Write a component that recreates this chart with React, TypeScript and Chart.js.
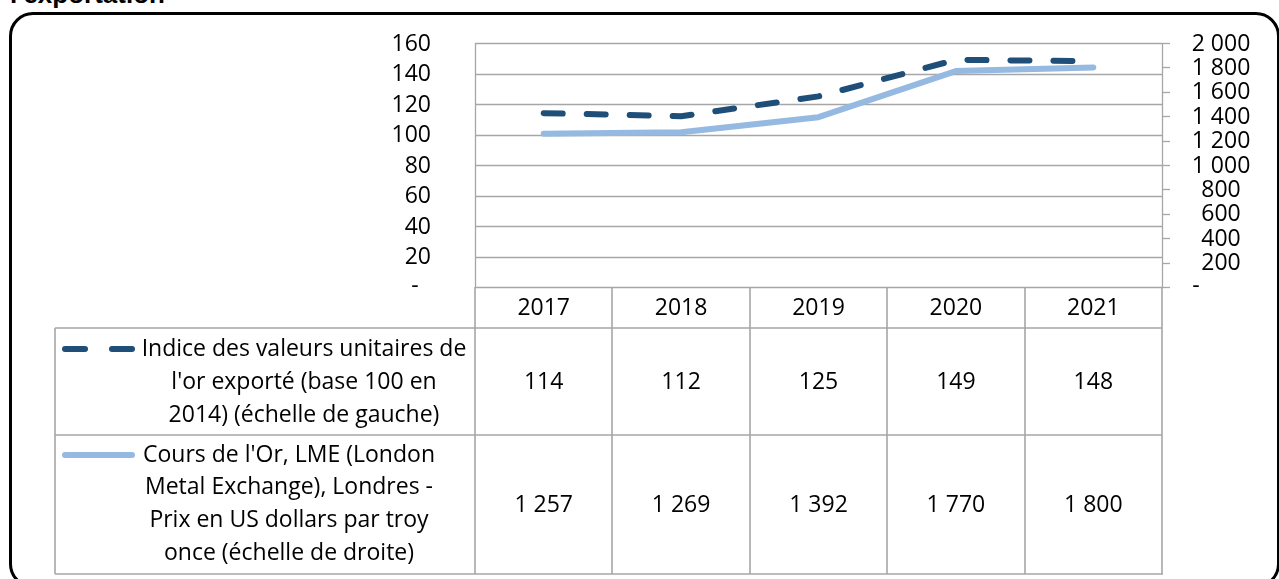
import React, { useEffect, useRef } from "react";
import { Chart, registerables } from "chart.js";

Chart.register(...registerables);

// ---------- data ----------
const YEARS = ["2017", "2018", "2019", "2020", "2021"];
const INDEX_VALUES = [114, 112, 125, 149, 148];
const GOLD_PRICE = [1257, 1269, 1392, 1770, 1800];
const LEFT_TICKS = [0, 20, 40, 60, 80, 100, 120, 140, 160];
const RIGHT_TICKS = [0, 200, 400, 600, 800, 1000, 1200, 1400, 1600, 1800, 2000];
const INDEX_LABEL_LINES = [
  "Indice des valeurs unitaires de",
  "l'or exporté (base 100 en",
  "2014) (échelle de gauche)",
];
const GOLD_LABEL_LINES = [
  "Cours de l'Or, LME (London",
  "Metal Exchange), Londres -",
  "Prix en US dollars par troy",
  "once (échelle de droite)",
];
const TITLE_TEXT = "l'exportation";

// ---------- styles ----------
const DARK = "#1F4E79";
const LIGHT = "#95B9E1";
const GRID = "#a6a6a6";
const FONT = "23px 'Open Sans'";

const fmt = (v: number) =>
  v === 0 ? "-" : String(v).replace(/\B(?=(\d{3})+(?!\d))/g, " ");

const tablePlugin = {
  id: "excelTable",
  beforeDatasetsDraw(chart: any) {
    const { ctx, chartArea: a, scales } = chart;
    const y = scales.y;
    const y1 = scales.y1;
    ctx.save();
    ctx.strokeStyle = GRID;
    ctx.lineWidth = 1.3;
    const line = (x0: number, y0: number, x1: number, yy1: number) => {
      ctx.beginPath();
      ctx.moveTo(x0, y0);
      ctx.lineTo(x1, yy1);
      ctx.stroke();
    };
    LEFT_TICKS.forEach((v) => {
      const py = Math.round(y.getPixelForValue(v)) + 0.5;
      line(a.left, py, a.right, py);
    });
    line(Math.round(a.left) + 0.5, a.top, Math.round(a.left) + 0.5, a.bottom);
    line(Math.round(a.right) + 0.5, a.top, Math.round(a.right) + 0.5, a.bottom);
    RIGHT_TICKS.forEach((v) => {
      const py = Math.round(y1.getPixelForValue(v)) + 0.5;
      line(a.right, py, a.right + 8, py);
    });
    ctx.restore();
  },
  afterDraw(chart: any) {
    const { ctx, chartArea: a, scales } = chart;
    const x = scales.x;
    const y = scales.y;
    const y1 = scales.y1;
    ctx.save();
    ctx.fillStyle = "#000";
    ctx.font = FONT;
    ctx.textBaseline = "middle";

    // left axis labels
    LEFT_TICKS.forEach((v) => {
      const py = y.getPixelForValue(v) + 1;
      if (v === 0) {
        ctx.textAlign = "center";
        ctx.fillText("-", 415, py - 2);
      } else {
        ctx.textAlign = "right";
        ctx.fillText(fmt(v), 431, py);
      }
    });
    // right axis labels
    RIGHT_TICKS.forEach((v) => {
      const py = y1.getPixelForValue(v) + 1;
      ctx.textAlign = "center";
      if (v === 0) ctx.fillText("-", 1196, py - 2);
      else ctx.fillText(fmt(v), 1221, py);
    });

    // data table
    const step = x.getPixelForValue(1) - x.getPixelForValue(0);
    const tableLeft = 55;
    const headerTop = a.bottom;
    const headerBottom = 328;
    const row1Bottom = 435;
    const tableBottom = 574;

    ctx.strokeStyle = GRID;
    ctx.lineWidth = 1.6;
    const line = (x0: number, y0: number, x1: number, yy1: number) => {
      ctx.beginPath();
      ctx.moveTo(x0, y0);
      ctx.lineTo(x1, yy1);
      ctx.stroke();
    };
    line(tableLeft, headerBottom, a.right, headerBottom);
    line(tableLeft, row1Bottom, a.right, row1Bottom);
    line(tableLeft, tableBottom, a.right + 1, tableBottom);
    line(tableLeft, headerBottom, tableLeft, tableBottom);
    for (let i = 0; i <= YEARS.length; i++) {
      const px = Math.round(x.getPixelForValue(i) - step / 2);
      line(px, headerTop, px, tableBottom);
    }

    ctx.textAlign = "center";
    YEARS.forEach((yr, i) => {
      const px = x.getPixelForValue(i);
      ctx.fillText(yr, px, (headerTop + headerBottom) / 2 + 1);
      ctx.fillText(fmt(INDEX_VALUES[i]), px, (headerBottom + row1Bottom) / 2 + 1);
      ctx.fillText(fmt(GOLD_PRICE[i]), px, (row1Bottom + tableBottom) / 2 + 1);
    });

    // legend keys
    ctx.lineCap = "round";
    ctx.lineWidth = 6;
    ctx.strokeStyle = DARK;
    line(65, 349, 85, 349);
    line(112, 349, 132, 349);
    ctx.strokeStyle = LIGHT;
    line(65, 455, 132, 455);

    // legend texts
    ctx.textAlign = "center";
    INDEX_LABEL_LINES.forEach((t, i) => ctx.fillText(t, 304, 349 + i * 33));
    GOLD_LABEL_LINES.forEach((t, i) => ctx.fillText(t, 289, 455 + i * 32.7));
    ctx.restore();
  },
};

export default function App() {
  const ref = useRef<HTMLCanvasElement | null>(null);
  useEffect(() => {
    if (!ref.current) return;
    const chart = new Chart(ref.current, {
      type: "line",
      data: {
        labels: YEARS,
        datasets: [
          {
            label: INDEX_LABEL_LINES.join(" "),
            data: INDEX_VALUES,
            yAxisID: "y",
            borderColor: DARK,
            backgroundColor: DARK,
            borderWidth: 6,
            borderDash: [19, 24],
            borderCapStyle: "round",
            borderJoinStyle: "round",
            pointRadius: 0,
            tension: 0,
            fill: false,
          },
          {
            label: GOLD_LABEL_LINES.join(" "),
            data: GOLD_PRICE,
            yAxisID: "y1",
            borderColor: LIGHT,
            backgroundColor: LIGHT,
            borderWidth: 6,
            borderCapStyle: "round",
            borderJoinStyle: "round",
            pointRadius: 0,
            tension: 0,
            fill: false,
          },
        ],
      },
      options: {
        responsive: false,
        animation: false,
        layout: { padding: { left: 475, top: 43, right: 1279 - 1162, bottom: 579 - 287 } },
        plugins: { legend: { display: false }, tooltip: { enabled: false }, title: { display: false } },
        scales: {
          x: { type: "category", offset: true, display: false, grid: { display: false } },
          y: { type: "linear", position: "left", min: 0, max: 160, display: false },
          y1: { type: "linear", position: "right", min: 0, max: 2000, display: false },
        },
      },
      plugins: [tablePlugin],
    } as any);
    return () => chart.destroy();
  }, []);

  return (
    <div
      style={{
        position: "fixed",
        left: 0,
        top: 0,
        width: 1279,
        height: 579,
        overflow: "hidden",
        background: "#fff",
      }}
    >
      <div
        style={{
          position: "absolute",
          left: 10,
          top: -19,
          font: "bold 26px 'Liberation Sans', Arial, sans-serif",
          lineHeight: "26px",
          whiteSpace: "nowrap",
          color: "#000",
        }}
      >
        {TITLE_TEXT}
      </div>
      <div
        style={{
          position: "absolute",
          left: 9,
          top: 12,
          width: 1265,
          height: 570,
          border: "3px solid #000",
          borderRadius: 24,
        }}
      />
      <canvas
        ref={ref}
        width={1279}
        height={579}
        style={{ position: "absolute", left: 0, top: 0, width: 1279, height: 579 }}
      />
    </div>
  );
}
